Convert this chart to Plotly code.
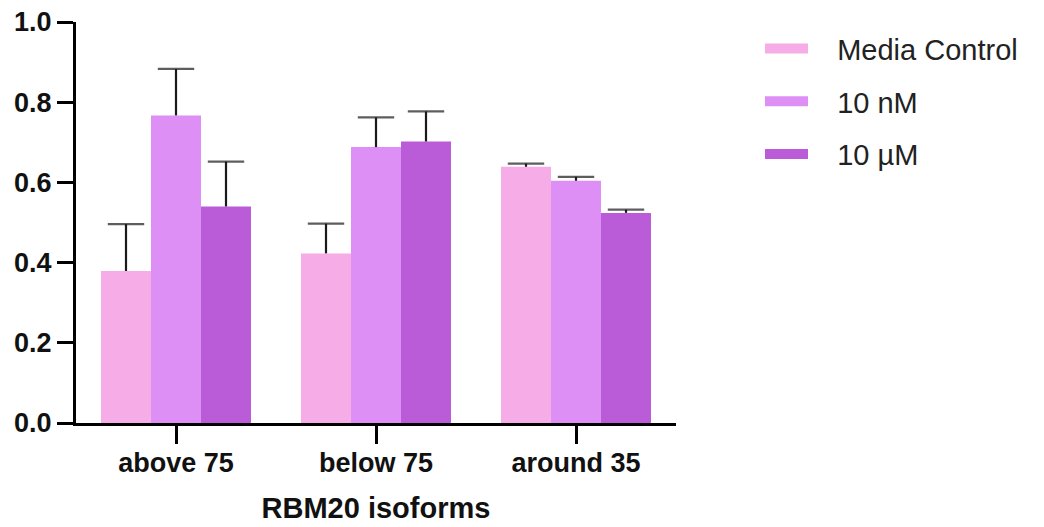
import plotly.graph_objects as go

categories = ["above 75", "below 75", "around 35"]
series_names = ["Media Control", "10 nM", "10 µM"]
media_control = [0.379, 0.423, 0.639]
nm10 = [0.767, 0.688, 0.604]
um10 = [0.540, 0.702, 0.524]
err_media = [0.117, 0.074, 0.008]
err_nm = [0.116, 0.074, 0.010]
err_um = [0.112, 0.075, 0.008]
colors = ["#F6ACE6", "#DE8FF6", "#BA5BD8"]
y_ticks = [0.0, 0.2, 0.4, 0.6, 0.8, 1.0]

fig = go.Figure()
groups = ["g0", "g1", "g2"]
all_vals = [media_control, nm10, um10]
all_errs = [err_media, err_nm, err_um]
for name, vals, col, grp in zip(series_names, all_vals, colors, groups):
    fig.add_trace(go.Bar(
        x=categories, y=vals, name=name, showlegend=False,
        offsetgroup=grp, marker=dict(color=col, line=dict(width=0)),
    ))

# upper-only error bars: stem + top cap
for name, vals, errs, grp in zip(series_names, all_vals, all_errs, groups):
    xs, ys, sizes = [], [], []
    for c, v, e in zip(categories, vals, errs):
        xs += [c, c, None]
        ys += [v, v + e, None]
        sizes += [0, 26, 0]
    fig.add_trace(go.Scatter(
        x=xs, y=ys, mode="lines+markers", offsetgroup=grp, showlegend=False,
        line=dict(color="#1a1a1a", width=2.2),
        marker=dict(symbol="line-ew", size=sizes,
                    line=dict(color="#1a1a1a", width=2.2)),
        hoverinfo="skip",
    ))

for name, col in zip(series_names, colors):
    fig.add_trace(go.Scatter(
        x=[None], y=[None], mode="lines", name="\u00a0\u00a0\u00a0" + name,
        legendgroup=name, line=dict(color=col, width=20), showlegend=True,
    ))

fig.update_layout(
    width=1044, height=527,
    margin=dict(l=76, r=368, t=22, b=104),
    paper_bgcolor="white", plot_bgcolor="white",
    barmode="group", bargap=0.25, bargroupgap=0,
    scattermode="group", scattergap=0.25,
    font=dict(family="Liberation Sans, Arial, sans-serif", color="#111"),
    legend=dict(x=1.14, y=0.997, xanchor="left", yanchor="top",
                font=dict(size=29, color="#222"), itemwidth=43,
                tracegroupgap=12, bgcolor="rgba(0,0,0,0)"),
    xaxis=dict(
        range=[-0.5, 2.5], showline=True, linecolor="black", linewidth=3,
        ticks="outside", ticklen=18, tickwidth=3, tickcolor="black",
        ticklabelstandoff=-4,
        tickfont=dict(size=27, weight="bold", color="#111"),
        title=dict(text="RBM20 isoforms", font=dict(size=29, weight="bold", color="#111"),
                   standoff=21),
        showgrid=False, zeroline=False, automargin=False,
    ),
    yaxis=dict(
        range=[0, 1.0], showline=True, linecolor="black", linewidth=3,
        ticks="outside", ticklen=16, tickwidth=3, tickcolor="black",
        tickvals=y_ticks, ticktext=[f"{v:.1f}" for v in y_ticks],
        tickfont=dict(size=27, weight="bold", color="#111"),
        showgrid=False, zeroline=False, automargin=False,
    ),
)

fig.write_html("out.html")
